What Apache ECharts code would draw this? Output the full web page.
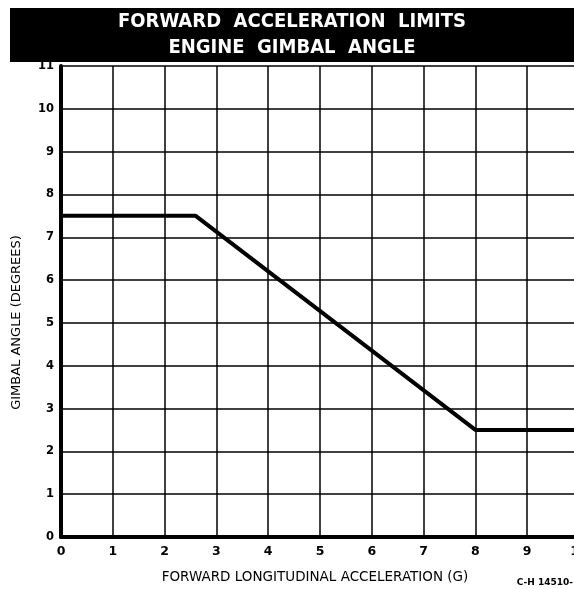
<!DOCTYPE html>
<html>
<head>
<meta charset="utf-8">
<script src="https://cdn.jsdelivr.net/npm/echarts@6/dist/echarts.min.js"></script>
<style>html,body{margin:0;padding:0;background:#fff}#c{width:574px;height:589px}</style>
</head>
<body>
<div id="c"></div>
<script>
const titleLines = ['FORWARD  ACCELERATION  LIMITS', 'ENGINE  GIMBAL  ANGLE'];
const xAxisName = 'FORWARD LONGITUDINAL ACCELERATION (G)';
const yAxisName = 'GIMBAL ANGLE (DEGREES)';
const refCode = 'C-H 14510-';
const acceleration = [0, 2.6, 8, 10];
const gimbalAngle = [7.5, 7.5, 2.5, 2.5];
const xRange = [0, 10];
const yRange = [0, 11];

const chart = echarts.init(document.getElementById('c'), null, {renderer: 'canvas'});
const labelFont = '"DejaVu Sans",sans-serif';
chart.setOption({
  animation: false,
  backgroundColor: '#fff',
  graphic: [
    {type: 'rect', left: 10, top: 8, shape: {width: 580, height: 54}, style: {fill: '#000'}, z: 0},
    {type: 'text', right: 1, bottom: 2, style: {text: refCode, font: 'bold 9px "DejaVu Sans", sans-serif', fill: '#000'}}
  ],
  title: {
    text: titleLines.join('\n'),
    left: 292, textAlign: 'center', top: 9, padding: 0,
    textStyle: {color: '#fff', fontSize: 20, fontWeight: 'bold', lineHeight: 26,
      fontFamily: '"Liberation Sans Narrow","DejaVu Sans Condensed",sans-serif'}
  },
  grid: {left: 61, right: -5, top: 66, bottom: 52, outerBoundsMode: 'none', containLabel: false},
  xAxis: {
    type: 'value', min: xRange[0], max: xRange[1], interval: 1,
    name: xAxisName, nameLocation: 'middle', nameGap: 33,
    nameTextStyle: {fontSize: 13.5, color: '#000', fontFamily: labelFont, padding: [0, 10, 0, 0]},
    axisLine: {show: true, onZero: false, lineStyle: {color: '#000', width: 4}},
    axisTick: {show: false},
    axisLabel: {color: '#000', fontWeight: 'bold', fontSize: 12.5, margin: 8, fontFamily: labelFont},
    splitLine: {show: true, lineStyle: {color: '#000', width: 1.5}}
  },
  yAxis: {
    type: 'value', min: yRange[0], max: yRange[1], interval: 1,
    name: yAxisName, nameLocation: 'middle', nameGap: 38,
    nameTextStyle: {fontSize: 13, color: '#000', fontFamily: labelFont, padding: [0, 42, 0, 0]},
    axisLine: {show: true, onZero: false, lineStyle: {color: '#000', width: 4}},
    axisTick: {show: false},
    axisLabel: {color: '#000', fontWeight: 'bold', fontSize: 11.5, margin: 7, fontFamily: labelFont},
    splitLine: {show: true, lineStyle: {color: '#000', width: 1.5}}
  },
  series: [{
    type: 'line',
    data: acceleration.map((x, i) => [x, gimbalAngle[i]]),
    symbol: 'none',
    lineStyle: {color: '#000', width: 4},
    z: 5
  }]
});
</script>
</body>
</html>
